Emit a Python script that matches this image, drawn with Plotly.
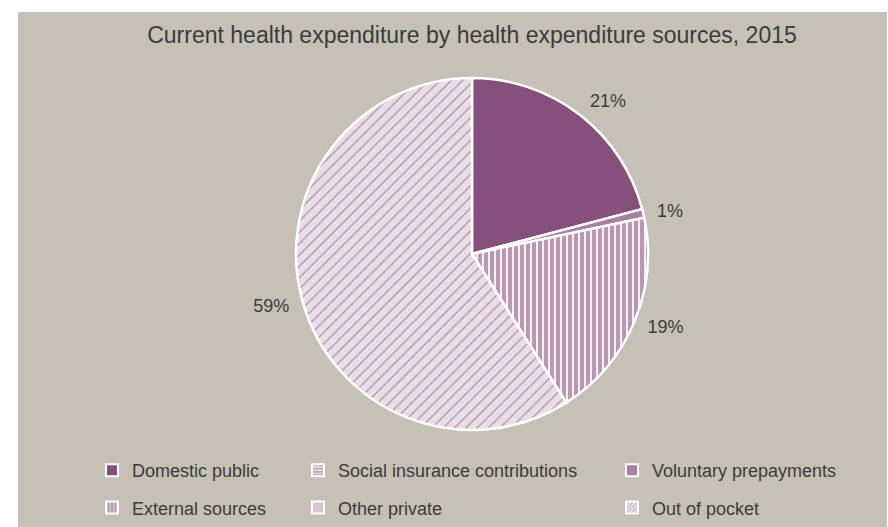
import plotly.graph_objects as go

# ---- data ----
categories = ["Domestic public", "Social insurance contributions", "Voluntary prepayments",
              "External sources", "Other private", "Out of pocket"]
shares = [20.9, 0.0, 0.8, 19.3, 0.0, 59.0]
title_text = "Current health expenditure by health expenditure sources, 2015"

# ---- styles ----
colors = ["#855079", "#e6d9e2", "#a9809f", "#b999b1", "#d8c4d2", "#e8dee5"]
pat_shapes = ["", "-", "", "|", "", "/"]
pat_fg = ["#855079", "#8d5b83", "#a9809f", "#ffffff", "#d8c4d2", "#b48ea9"]
pat_size = [8, 4, 8, 6, 8, 8]
pat_solid = [0.3, 0.35, 0.3, 0.28, 0.3, 0.16]
BG = "#c5c1b7"
TXT = "#3b3b3b"
FONT = "Liberation Sans"

W, H = 888, 527
L, T, R, B = 18, 12, 1, 0
pw, ph = W - L - R, H - T - B

labels_txt = [f"{round(v)}%" if v > 0 else "" for v in shares]


def domain(cx, cy, rad):
    return dict(x=[(cx - rad - L) / pw, (cx + rad - L) / pw],
                y=[(H - B - (cy + rad)) / ph, (H - B - (cy - rad)) / ph])


cx, cy, rad = 472, 254, 176
label_rad = rad + 9

fig = go.Figure()

# invisible companion pie that only carries the outside percentage labels
fig.add_trace(go.Pie(
    labels=categories,
    values=shares,
    sort=False,
    direction="clockwise",
    rotation=0,
    domain=domain(cx, cy, label_rad),
    text=labels_txt,
    textinfo="text",
    textposition="outside",
    outsidetextfont=dict(family=FONT, size=18, color=TXT),
    marker=dict(colors=["rgba(0,0,0,0)"] * len(categories), line=dict(width=0)),
    showlegend=False,
    hoverinfo="skip",
))

fig.add_trace(go.Pie(
    labels=categories,
    values=shares,
    sort=False,
    direction="clockwise",
    rotation=0,
    domain=domain(cx, cy, rad),
    textinfo="none",
    marker=dict(
        colors=colors,
        line=dict(color="white", width=2.5),
        pattern=dict(shape=pat_shapes, fgcolor=pat_fg, bgcolor=colors,
                     size=pat_size, solidity=pat_solid, fillmode="replace"),
    ),
    showlegend=False,
    hoverinfo="label+percent",
))

# legend entries (3 columns); dummy bars placed outside the fixed axis range
for i, cat in enumerate(categories):
    col = i % 3
    lg = "legend" if col == 0 else f"legend{col + 1}"
    fig.add_trace(go.Bar(
        x=[-10], y=[1], name=cat, legend=lg, legendgroup=cat,
        marker=dict(color=colors[i], line=dict(color="white", width=2),
                    pattern=dict(shape=pat_shapes[i], fgcolor=pat_fg[i], bgcolor=colors[i],
                                 size=4 if pat_shapes[i] else 8,
                                 solidity=0.4 if pat_shapes[i] else 0.3)),
        hoverinfo="skip",
    ))

leg_common = dict(
    xref="paper", yref="paper", xanchor="left", yanchor="top",
    font=dict(family=FONT, size=18, color=TXT),
    bgcolor="rgba(0,0,0,0)", tracegroupgap=11, orientation="v",
)
sym_x = [112, 318, 632]
leg_top = (H - B - (469 - 17)) / ph

fig.update_layout(
    width=W, height=H,
    margin=dict(l=L, r=R, t=T, b=B),
    paper_bgcolor="white",
    plot_bgcolor=BG,
    xaxis=dict(visible=False, range=[0, 1], fixedrange=True, type="linear"),
    yaxis=dict(visible=False, range=[0, 1], fixedrange=True, type="linear"),
    title=dict(text=title_text, x=472 / W, xanchor="center", xref="container",
               y=1 - 35 / H, yanchor="middle", yref="container",
               font=dict(family=FONT, size=23, color=TXT)),
    legend=dict(x=(sym_x[0] - 20 - L) / pw, y=leg_top, **leg_common),
    legend2=dict(x=(sym_x[1] - 20 - L) / pw, y=leg_top, **leg_common),
    legend3=dict(x=(sym_x[2] - 20 - L) / pw, y=leg_top, **leg_common),
)

fig.write_html("out.html")
